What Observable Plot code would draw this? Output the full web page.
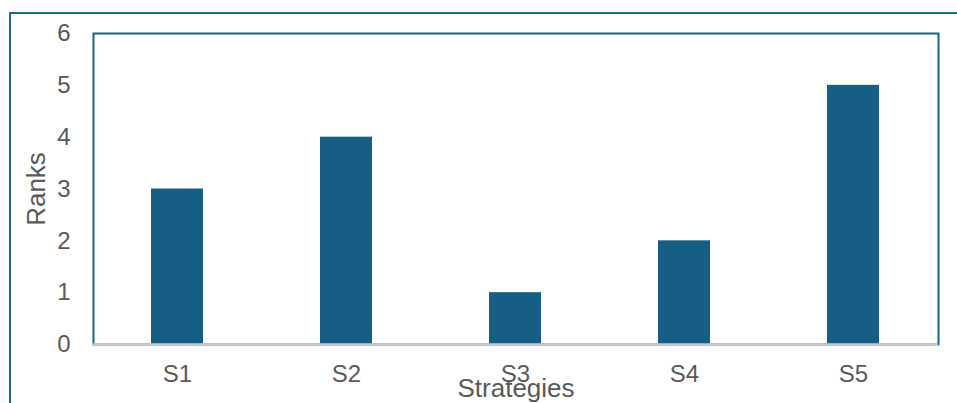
<!DOCTYPE html>
<html>
<head>
<meta charset="utf-8">
<script src="https://cdn.jsdelivr.net/npm/d3@7"></script>
<script src="https://cdn.jsdelivr.net/npm/@observablehq/plot@0.6"></script>
<style>
  html, body { margin: 0; padding: 0; background: #fff; overflow: hidden; }
  #wrap { position: relative; width: 957px; height: 403px; overflow: hidden; }
  #outer { position: absolute; left: 9px; top: 12px; width: 1200px; height: 800px;
           border: 2px solid #1d6a8e; box-sizing: border-box; pointer-events: none; }
  #chart { position: absolute; left: 0; top: 0; }
</style>
</head>
<body>
<div id="wrap">
  <div id="outer"></div>
  <div id="chart"></div>
</div>
<script>
const strategies = ["S1", "S2", "S3", "S4", "S5"];
const ranks = [3, 4, 1, 2, 5];
const yTicks = [0, 1, 2, 3, 4, 5, 6];
const xTitle = "Strategies";
const yTitle = "Ranks";

const data = strategies.map((s, i) => ({strategy: s, rank: ranks[i]}));

const textColor = "#595959";
const barColor = "#165e83";
const frameColor = "#1a6388";

const chart = Plot.plot({
  width: 957,
  height: 403,
  marginLeft: 93,
  marginRight: 19,
  marginTop: 33,
  marginBottom: 59,
  style: {fontFamily: "'Liberation Sans', Arial, sans-serif", fontSize: "24px", color: textColor, background: "transparent"},
  x: {domain: strategies, paddingInner: 0.69, paddingOuter: 0.345},
  y: {domain: [0, 6]},
  marks: [
    Plot.barY(data, {x: "strategy", y: "rank", fill: barColor}),
    Plot.frame({stroke: frameColor, strokeWidth: 2}),
    Plot.ruleY([0], {stroke: "#c3ccd1", strokeWidth: 2.5}),
    Plot.axisY({ticks: yTicks, tickSize: 0, tickPadding: 23, fontSize: 24, tickFormat: d => String(d),
      label: null, fill: textColor}),
    Plot.axisY({ticks: [], tickSize: 0, fontSize: 26,
      label: yTitle, labelArrow: "none", labelAnchor: "center", labelOffset: 67, fill: textColor}),
    Plot.axisX({tickSize: 0, tickPadding: 20, fontSize: 24, label: null, fill: textColor}),
    Plot.axisX({ticks: [], tickSize: 0, fontSize: 26,
      label: xTitle, labelArrow: "none", labelAnchor: "center", labelOffset: 52, fill: textColor})
  ]
});
document.getElementById("chart").appendChild(chart);
</script>
</body>
</html>
